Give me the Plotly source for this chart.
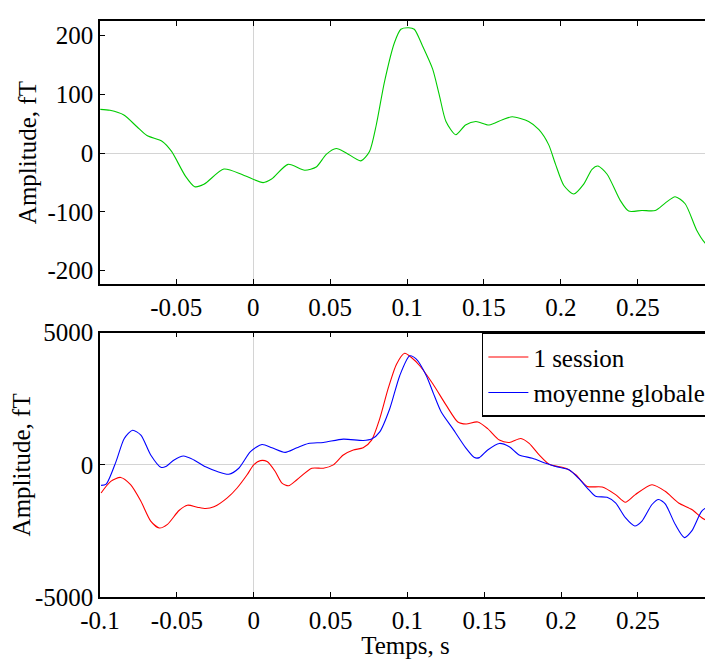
import plotly.graph_objects as go

# ---- Top panel (green) ----
t_top = [-0.0993, -0.093, -0.084, -0.0755, -0.069, -0.059, -0.053, -0.044, -0.038, -0.032,
         -0.019, -0.0065, 0.0065, 0.012, 0.0227, 0.0335, 0.041, 0.0475, 0.054, 0.0605,
         0.070, 0.0756, 0.080, 0.0853, 0.0918, 0.096, 0.101, 0.1047, 0.110, 0.1166,
         0.121, 0.1253, 0.1317, 0.138, 0.1447, 0.1533, 0.162, 0.1684, 0.179, 0.1857,
         0.192, 0.1965, 0.2019, 0.2083, 0.2148, 0.2202, 0.224, 0.230, 0.2386, 0.244,
         0.2526, 0.2613, 0.2677, 0.2742, 0.2807, 0.2882, 0.2937, 0.2975]
amp_top = [74.6, 73, 65, 45, 30, 20, 3, -39, -57, -53,
           -27, -37, -50, -44, -19, -29, -23.5, -2, 8, 0.5,
           -13, 3, 48, 121, 188, 211, 213.5, 211, 183, 143.5,
           98.6, 54, 31.4, 48, 54, 48, 57, 62, 54, 40,
           14.6, -19, -55, -69.4, -52.6, -27.4, -21.8, -35.8, -80.7, -98.5,
           -97.5, -97.5, -85, -74, -86, -131, -153, -160.7]

# ---- Bottom panel ----
t_session = [-0.0993, -0.093, -0.0866, -0.0801, -0.0734, -0.067, -0.0615, -0.0561, -0.0486, -0.0431,
             -0.0367, -0.0313, -0.0259, -0.0172, -0.0108, -0.0043, 0.0, 0.0043, 0.0087, 0.014,
             0.0184, 0.0227, 0.0281, 0.0378, 0.0453, 0.0518, 0.0583, 0.0648, 0.0712, 0.0767,
             0.082, 0.0874, 0.0929, 0.0982, 0.1026, 0.108, 0.1166, 0.1253, 0.1328, 0.1382,
             0.1457, 0.1522, 0.1598, 0.1663, 0.1738, 0.1792, 0.1857, 0.1922, 0.203, 0.2095,
             0.217, 0.2267, 0.2354, 0.2418, 0.2483, 0.2591, 0.2677, 0.2764, 0.285, 0.2915, 0.2975]
amp_session = [-1064, -626, -476, -750, -1376, -2126, -2389, -2250, -1726, -1526,
               -1601, -1651, -1589, -1251, -876, -376, 0, 161, 124, -251,
               -689, -788, -562, -127, -127, 0, 375, 562, 649, 937,
               1748, 2873, 3810, 4223, 4061, 3750, 3060, 2250, 1624, 1549,
               1624, 1372, 937, 848, 998, 811, 375, 24, -127, -375,
               -814, -839, -1125, -1414, -1125, -750, -1001, -1440, -1688, -2002, -2190]

t_global = [-0.0993, -0.096, -0.0896, -0.0842, -0.0788, -0.0734, -0.067, -0.0604, -0.0572, -0.0518,
            -0.0457, -0.0389, -0.0313, -0.0237, -0.0162, -0.0097, -0.0021, 0.0054, 0.0119, 0.0205,
            0.0281, 0.0356, 0.0453, 0.0583, 0.0712, 0.0767, 0.082, 0.0885, 0.095, 0.1015,
            0.1058, 0.1123, 0.1166, 0.122, 0.1295, 0.1382, 0.1436, 0.1468, 0.1522, 0.1598,
            0.1663, 0.1727, 0.1813, 0.19, 0.1965, 0.2051, 0.2116, 0.217, 0.2224, 0.2299,
            0.2354, 0.2418, 0.2479, 0.2526, 0.2591, 0.2634, 0.2677, 0.2742, 0.2802, 0.285,
            0.2915, 0.2975]
amp_global = [-776, -727, 124, 1000, 1312, 1125, 375, -90, -64, 187,
              337, 187, -75, -251, -352, -127, 499, 772, 649, 473,
              649, 811, 848, 975, 923, 975, 1249, 2123, 3375, 4125,
              4000, 3375, 2749, 2000, 1372, 623, 274, 274, 562, 811,
              686, 375, 249, 62, -64, -187, -524, -876, -1189, -1226,
              -1438, -2000, -2312, -2125, -1500, -1312, -1476, -2250, -2752, -2500,
              -1751, -1500]

series_names = ["1 session", "moyenne globale"]
x_tickvals = [-0.1, -0.05, 0, 0.05, 0.1, 0.15, 0.2, 0.25]
x_ticktext = ["-0.1", "-0.05", "0", "0.05", "0.1", "0.15", "0.2", "0.25"]
top_tickvals = [-200, -100, 0, 100, 200]
top_ticktext = ["-200", "-100", "0", "100", "200"]
bot_tickvals = [-5000, 0, 5000]
bot_ticktext = ["-5000", "0", "5000"]

FONT = "Liberation Serif, Times New Roman, serif"
FS = 25

fig = go.Figure()
fig.add_trace(go.Scatter(x=t_top, y=amp_top, mode="lines", showlegend=False,
                         line=dict(color="#00cc00", width=1.1, shape="spline", smoothing=0.7),
                         xaxis="x", yaxis="y"))
fig.add_trace(go.Scatter(x=t_session, y=amp_session, mode="lines", name=series_names[0],
                         line=dict(color="#ff0000", width=1.1, shape="spline", smoothing=0.7),
                         xaxis="x2", yaxis="y2"))
fig.add_trace(go.Scatter(x=t_global, y=amp_global, mode="lines", name=series_names[1],
                         line=dict(color="#0000ff", width=1.1, shape="spline", smoothing=0.7),
                         xaxis="x2", yaxis="y2"))

axis_common = dict(showline=True, linecolor="black", linewidth=1.5, mirror="allticks",
                   ticks="inside", ticklen=5, tickcolor="black", tickwidth=1,
                   showgrid=False, zeroline=True, zerolinecolor="#d4d4d4", zerolinewidth=1,
                   tickfont=dict(family=FONT, size=FS, color="black"))

# the page body has an 8px margin, so the figure is sized to fill the rest of the window
fig.update_layout(
    width=705, height=651,
    margin=dict(l=92, r=0, t=7, b=62),
    paper_bgcolor="white", plot_bgcolor="white",
    font=dict(family=FONT, size=FS, color="black"),
    xaxis=dict(domain=[0, 1], range=[-0.0995, 0.2975], anchor="y",
               tickvals=x_tickvals, ticktext=x_ticktext, **axis_common),
    yaxis=dict(domain=[0.5430, 1], range=[-223, 225], anchor="x",
               tickvals=top_tickvals, ticktext=top_ticktext,
               title=dict(text="Amplitude, fT", font=dict(family=FONT, size=FS), standoff=4),
               **axis_common),
    xaxis2=dict(domain=[0, 1], range=[-0.1, 0.2975], anchor="y2",
                tickvals=x_tickvals, ticktext=x_ticktext,
                title=dict(text="Temps, s", font=dict(family=FONT, size=FS), standoff=2),
                **axis_common),
    yaxis2=dict(domain=[0, 0.4588], range=[-5000, 5000], anchor="x2",
                tickvals=bot_tickvals, ticktext=bot_ticktext,
                title=dict(text="Amplitude, fT", font=dict(family=FONT, size=FS), standoff=4),
                **axis_common),
    legend=dict(x=0.625, y=0.4588, xanchor="left", yanchor="top",
                bgcolor="white", bordercolor="black", borderwidth=1.5,
                font=dict(family=FONT, size=FS), tracegroupgap=0, itemwidth=40),
)

fig.write_html("out.html")
